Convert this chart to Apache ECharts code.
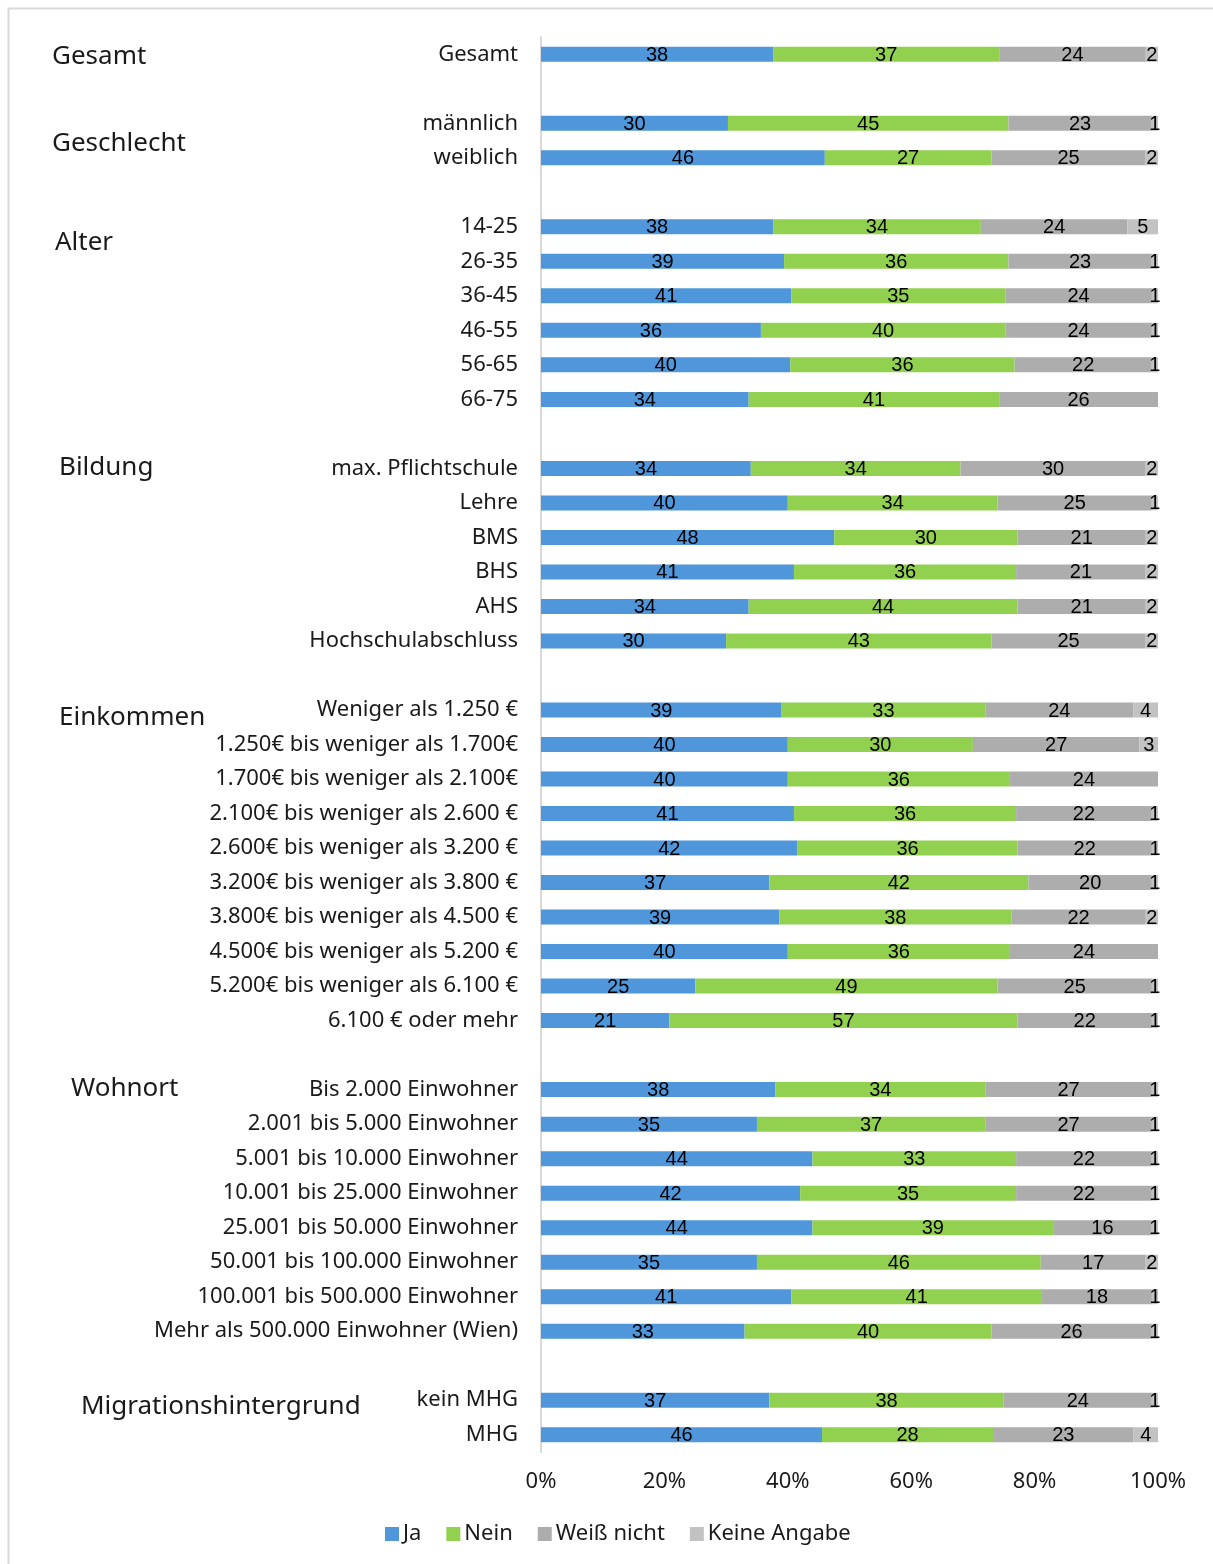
<!DOCTYPE html>
<html>
<head>
<meta charset="utf-8">
<script src="https://cdn.jsdelivr.net/npm/echarts@6/dist/echarts.min.js"></script>
<style>
html,body{margin:0;padding:0;background:#fff;}
#chart{width:1213px;height:1564px;}
</style>
</head>
<body>
<div id="chart"></div>
<script>
// Rows (null = spacer row between groups)
var categories = [
  'Gesamt', null,
  'männlich', 'weiblich', null,
  '14-25', '26-35', '36-45', '46-55', '56-65', '66-75', null,
  'max. Pflichtschule', 'Lehre', 'BMS', 'BHS', 'AHS', 'Hochschulabschluss', null,
  'Weniger als 1.250 €', '1.250€ bis weniger als 1.700€', '1.700€ bis weniger als 2.100€',
  '2.100€ bis weniger als 2.600 €', '2.600€ bis weniger als 3.200 €', '3.200€ bis weniger als 3.800 €',
  '3.800€ bis weniger als 4.500 €', '4.500€ bis weniger als 5.200 €', '5.200€ bis weniger als 6.100 €',
  '6.100 € oder mehr', null,
  'Bis 2.000 Einwohner', '2.001 bis 5.000 Einwohner', '5.001 bis 10.000 Einwohner',
  '10.001 bis 25.000 Einwohner', '25.001 bis 50.000 Einwohner', '50.001 bis 100.000 Einwohner',
  '100.001 bis 500.000 Einwohner', 'Mehr als 500.000 Einwohner (Wien)', null,
  'kein MHG', 'MHG'
];
var ja = [38,null, 30,46,null, 38,39,41,36,40,34,null, 34,40,48,41,34,30,null,
  39,40,40,41,42,37,39,40,25,21,null, 38,35,44,42,44,35,41,33,null, 37,46];
var nein = [37,null, 45,27,null, 34,36,35,40,36,41,null, 34,34,30,36,44,43,null,
  33,30,36,36,36,42,38,36,49,57,null, 34,37,33,35,39,46,41,40,null, 38,28];
var weissNicht = [24,null, 23,25,null, 24,23,24,24,22,26,null, 30,25,21,21,21,25,null,
  24,27,24,22,22,20,22,24,25,22,null, 27,27,22,22,16,17,18,26,null, 24,23];
var keineAngabe = [2,null, 1,2,null, 5,1,1,1,1,0,null, 2,1,2,2,2,2,null,
  4,3,0,1,1,1,2,0,1,1,null, 1,1,1,1,1,2,1,1,null, 1,4];
var seriesNames = ['Ja', 'Nein', 'Weiß nicht', 'Keine Angabe'];
var tickLabels = ['0%', '20%', '40%', '60%', '80%', '100%'];
var groupLabels = ['Gesamt', 'Geschlecht', 'Alter', 'Bildung', 'Einkommen', 'Wohnort', 'Migrationshintergrund'];

var colors = ['#4f96da', '#92d150', '#adadad', '#c2c2c2'];
var raw = [ja, nein, weissNicht, keineAngabe];

// unique blank names for spacer rows
var blankCount = 0;
var axisData = categories.map(function (c) {
  if (c === null) { blankCount++; return new Array(blankCount + 1).join('\u200b'); }
  return c;
});

var totals = categories.map(function (c, i) {
  if (c === null) return null;
  return ja[i] + nein[i] + weissNicht[i] + keineAngabe[i];
});

var series = raw.map(function (arr, s) {
  return {
    name: seriesNames[s],
    type: 'bar',
    stack: 'total',
    barWidth: 15,
    itemStyle: { color: colors[s] },
    label: {
      show: true,
      position: 'inside',
      color: '#000',
      fontFamily: 'Liberation Sans, Arial, sans-serif',
      fontSize: 20,
      offset: [0, 1],
      formatter: function (p) {
        var v = arr[p.dataIndex];
        return (v === null || v === 0) ? '' : String(v);
      }
    },
    emphasis: { disabled: true },
    data: arr.map(function (v, i) {
      if (v === null) return '-';
      return v / totals[i] * 100;
    })
  };
});

var groupPos = [
  [52, 55], [52, 142], [55, 241], [59, 466], [59, 716], [71, 1087], [81, 1405]
];

var chart = echarts.init(document.getElementById('chart'), null, { renderer: 'canvas' });
chart.setOption({
  animation: false,
  backgroundColor: '#fff',
  color: colors,
  grid: { left: 541, right: 55, top: 37, height: 1415, containLabel: false },
  xAxis: {
    type: 'value',
    min: 0, max: 100, interval: 20,
    axisLine: { show: false },
    axisTick: { show: false },
    splitLine: { show: false },
    axisLabel: {
      margin: 19,
      color: '#1a1a1a',
      fontFamily: 'Noto Sans, sans-serif',
      fontSize: 22,
      formatter: function (v) { return tickLabels[Math.round(v / 20)]; }
    }
  },
  yAxis: {
    type: 'category',
    inverse: true,
    data: axisData,
    axisLine: { show: true, lineStyle: { color: '#d9d9d9', width: 2 } },
    axisTick: { show: false },
    axisLabel: {
      margin: 23,
      color: '#1a1a1a',
      fontFamily: 'Noto Sans, sans-serif',
      fontSize: 22,
      interval: 0
    }
  },
  legend: {
    left: 380,
    top: 1518,
    itemWidth: 14,
    itemHeight: 14,
    itemGap: 25,
    icon: 'rect',
    data: seriesNames,
    textStyle: { color: '#1a1a1a', fontFamily: 'Noto Sans, sans-serif', fontSize: 22, padding: [0, 0, 0, -1] }
  },
  graphic: [
    {
      type: 'rect',
      shape: { x: 8.5, y: 8.5, width: 1220, height: 1570 },
      style: { fill: 'none', stroke: '#d9d9d9', lineWidth: 2 },
      silent: true
    }
  ].concat(groupLabels.map(function (g, i) {
    return {
      type: 'text',
      left: groupPos[i][0],
      top: groupPos[i][1] - 11,
      style: {
        text: g,
        fill: '#1a1a1a',
        font: '26px "Noto Sans", sans-serif'
      },
      silent: true
    };
  })),
  series: series
});
</script>
</body>
</html>
